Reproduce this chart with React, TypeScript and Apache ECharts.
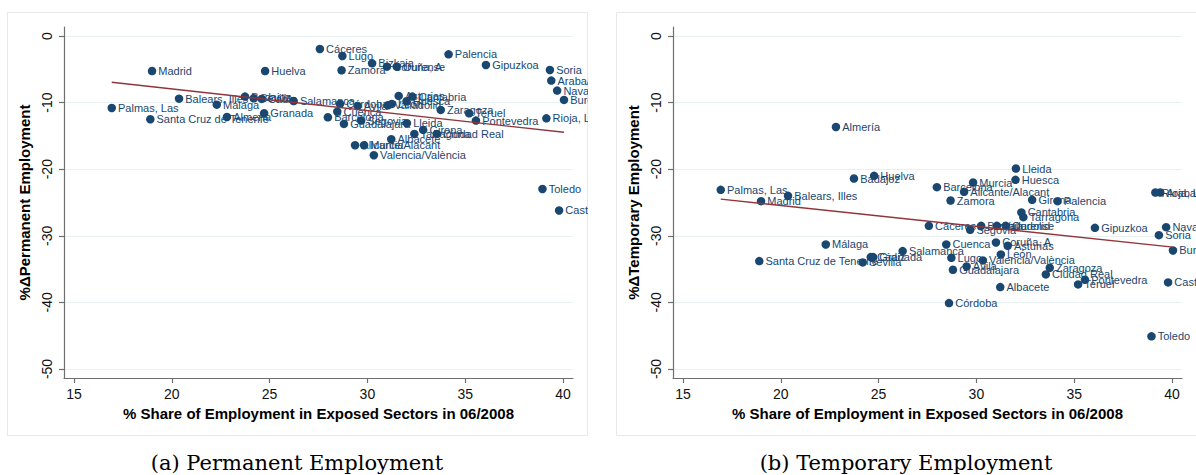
import React, { useEffect, useRef } from "react";
import * as echarts from "echarts";

const provinces = [
  "Madrid", "Huelva", "Cáceres", "Lugo", "Zamora", "Bizkaia", "Coruña, A", "Ourense",
  "Palencia", "Gipuzkoa", "Soria", "Araba/Álava", "Navarra", "Burgos", "Rioja, La",
  "Balears, Illes", "Palmas, Las", "Santa Cruz de Tenerife", "Málaga", "Almería", "Granada",
  "Badajoz", "Sevilla", "Cádiz", "Salamanca", "Córdoba", "Cuenca", "Barcelona", "Ávila",
  "Valladolid", "León", "Asturias", "Cantabria", "Huesca", "Lleida", "Tarragona", "Girona",
  "Segovia", "Guadalajara", "Zaragoza", "Teruel", "Pontevedra", "Ciudad Real", "Albacete",
  "Murcia", "Alicante/Alacant", "Valencia/València", "Toledo", "Castellón/Castelló",
];

const exposureShare = [
  18.99, 24.77, 27.57, 28.72, 28.68, 30.24, 31.0, 31.5,
  34.15, 36.06, 39.33, 39.4, 39.7, 40.05, 39.15,
  20.37, 16.93, 18.9, 22.3, 22.82, 24.72,
  23.74, 24.19, 24.6, 26.23, 28.6, 28.46, 27.98, 29.5,
  31.05, 31.25, 31.6, 32.3, 32.0, 32.02, 32.4, 32.85,
  29.68, 28.8, 33.75, 35.2, 35.55, 33.55, 31.22,
  29.83, 29.37, 30.33, 38.95, 39.8,
];

const permanentChange = [
  -5.26, -5.26, -1.95, -3.0, -5.15, -4.1, -4.6, -4.6,
  -2.75, -4.35, -5.1, -6.7, -8.2, -9.6, -12.36,
  -9.41, -10.81, -12.5, -10.31, -12.16, -11.6,
  -9.1, -9.35, -9.45, -9.76, -10.2, -11.36, -12.2, -10.5,
  -10.4, -10.2, -9.0, -9.1, -9.8, -13.1, -14.7, -14.1,
  -12.7, -13.2, -11.1, -11.6, -12.7, -14.7, -15.5,
  -16.4, -16.4, -17.9, -22.97, -26.2,
];

const temporaryChange = [
  -24.8, -21.0, -28.5, -33.3, -24.7, -28.5, -31.0, -28.5,
  -24.8, -28.8, -29.9, -23.5, -28.7, -32.2, -23.5,
  -24.0, -23.1, -33.8, -31.3, -13.66, -33.2,
  -21.4, -34.0, -33.2, -32.3, -40.1, -31.3, -22.7, -34.6,
  -28.5, -32.8, -31.5, -26.5, -21.6, -19.9, -27.2, -24.6,
  -29.1, -35.1, -34.8, -37.3, -36.6, -35.8, -37.7,
  -22.0, -23.4, -33.7, -45.1, -37.0,
];

const permanentFit = [[16.93, -6.95], [40.05, -14.46]];
const temporaryFit = [[16.93, -24.5], [40.05, -31.7]];

const xTicks = [15, 20, 25, 30, 35, 40];
const yTicks = [-50, -40, -30, -20, -10, 0];

const xTitle = "% Share of Employment in Exposed Sectors in 06/2008";

const NAVY = "#1a476f";
const FIT = "#90353b";
const AXIS = "#6f6f6f";
const GRID = "#e9f0f2";
const FONT = "'Liberation Sans', Arial, sans-serif";

function Panel(props: {
  values: number[];
  fit: number[][];
  yTitle: string;
  caption: string;
  left: number;
  width: number;
}) {
  const ref = useRef<HTMLDivElement>(null);
  useEffect(() => {
    if (!ref.current) return;
    const chart = echarts.init(ref.current, undefined, { renderer: "svg" });
    const points = provinces.map((p, i) => [exposureShare[i], props.values[i], p]);
    chart.setOption({
      animation: false,
      textStyle: { fontFamily: FONT },
      grid: { left: 64, top: 27, width: 509, height: 351 },
      graphic: [
        {
          type: "rect",
          shape: { x: 7.5, y: 12.5, width: 580, height: 423 },
          style: { fill: "none", stroke: "#e6e9ec", lineWidth: 1 },
          silent: true,
          z: -10,
        },
        {
          type: "text",
          x: 297,
          y: 463,
          style: {
            text: props.caption,
            fontFamily: "'DejaVu Serif', serif",
            fontSize: 21,
            fill: "#000",
            align: "center",
            verticalAlign: "middle",
          },
        },
      ],
      xAxis: {
        type: "value",
        min: 14.4888,
        max: 40.5112,
        splitLine: { show: false },
        axisLine: { show: true, onZero: false, lineStyle: { color: AXIS, width: 1.2 } },
        axisTick: { show: true, length: 5, customValues: xTicks, lineStyle: { color: AXIS, width: 1.2 } },
        axisLabel: { customValues: xTicks, color: "#111", fontSize: 14, margin: 9, fontFamily: FONT },
        name: xTitle,
        nameLocation: "middle",
        nameGap: 23,
        nameTextStyle: { fontWeight: "bold", fontSize: 15, color: "#000", fontFamily: FONT },
      },
      yAxis: {
        type: "value",
        min: -51.3514,
        max: 1.3514,
        splitLine: { show: false },
        axisLine: { show: true, onZero: false, lineStyle: { color: AXIS, width: 1.2 } },
        axisTick: { show: true, length: 5, customValues: yTicks, lineStyle: { color: AXIS, width: 1.2 } },
        axisLabel: { customValues: yTicks, rotate: 90, color: "#111", fontSize: 14, margin: 10, fontFamily: FONT },
        name: props.yTitle,
        nameLocation: "middle",
        nameRotate: 90,
        nameGap: 23,
        nameTextStyle: { fontWeight: "bold", fontSize: 15, color: "#000", fontFamily: FONT },
      },
      series: [
        {
          type: "line",
          data: [],
          silent: true,
          z: 0,
          markLine: {
            silent: true,
            z: 0,
            symbol: ["none", "none"],
            label: { show: false },
            lineStyle: { color: GRID, width: 1.2, type: "solid" },
            data: yTicks.map((v) => ({ yAxis: v })),
          },
        },
        {
          type: "scatter",
          data: points,
          symbol: "circle",
          symbolSize: 8.5,
          itemStyle: { color: NAVY, opacity: 1 },
          clip: false,
          z: 3,
          label: {
            show: true,
            position: "right",
            distance: 2,
            formatter: (p: any) => p.data[2],
            color: NAVY,
            fontSize: 11,
            fontFamily: FONT,
          },
        },
        {
          type: "line",
          data: props.fit,
          symbol: "none",
          lineStyle: { color: FIT, width: 1.4 },
          z: 4,
        },
      ],
    });
    return () => chart.dispose();
  }, []);
  return (
    <div
      style={{ position: "absolute", left: props.left, top: 0, width: props.width, height: 475, overflow: "hidden" }}
    >
      <div ref={ref} style={{ width: props.width, height: 475 }} />
    </div>
  );
}

export default function App() {
  return (
    <div style={{ position: "absolute", left: 0, top: 0, width: 1196, height: 475, background: "#fff", overflow: "hidden" }}>
      <Panel values={permanentChange} fit={permanentFit} yTitle="%ΔPermanent Employment" caption="(a) Permanent Employment" left={0} width={588} />
      <Panel values={temporaryChange} fit={temporaryFit} yTitle="%ΔTemporary Employment" caption="(b) Temporary Employment" left={609} width={587} />
    </div>
  );
}
